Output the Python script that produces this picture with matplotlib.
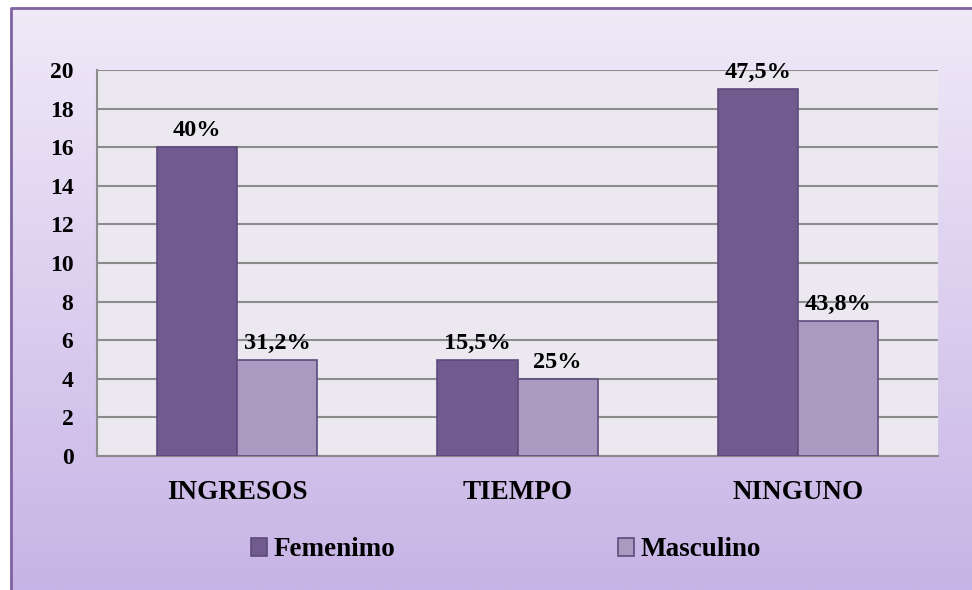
import matplotlib.pyplot as plt
import numpy as np

# data
categories = ['INGRESOS', 'TIEMPO', 'NINGUNO']
femenimo = [16, 5, 19]
masculino = [5, 4, 7]
fem_labels = ['40%', '15,5%', '47,5%']
masc_labels = ['31,2%', '25%', '43,8%']
series_names = ['Femenimo', 'Masculino']
yticks = list(range(0, 21, 2))

fem_color = '#705A8E'
masc_color = '#AA9ABF'
edge_color = '#5E4A7C'

plt.rcParams['font.family'] = ['Liberation Serif', 'DejaVu Serif']
plt.rcParams['font.weight'] = 'bold'

W, H = 972, 590
fig = plt.figure(figsize=(W / 100, H / 100), dpi=100)
fig.patch.set_facecolor('white')

# background with vertical gradient, frame starts at (10, 7)
bg = fig.add_axes([10 / W, 0, 1 - 10 / W, 1 - 7 / H], zorder=-5)
grad = np.linspace(0, 1, 256).reshape(-1, 1)
top = np.array([0xF0, 0xEA, 0xF8]) / 255
bot = np.array([0xC7, 0xB4, 0xE6]) / 255
img = top + (bot - top) * grad[:, :, None]
bg.imshow(img, aspect='auto', extent=[0, 1, 0, 1])
bg.set_xlim(0, 1)
bg.set_ylim(0, 1)
bg.axis('off')
bg.plot([0.001, 0.001, 1], [0, 0.998, 0.998], color='#8064A2', lw=2, clip_on=False)

# plot area
ax = fig.add_axes([97 / W, (H - 456) / H, 841 / W, 386 / H])
ax.set_facecolor('#EBE9EF')
x = np.arange(len(categories))
w = 80 / 280.3
b1 = ax.bar(x - w / 2, femenimo, w, color=fem_color, edgecolor=edge_color, lw=1.2, zorder=3)
b2 = ax.bar(x + w / 2, masculino, w, color=masc_color, edgecolor=edge_color, lw=1.2, zorder=3)

for bars, labs in [(b1, fem_labels), (b2, masc_labels)]:
    for r, t in zip(bars, labs):
        ax.text(r.get_x() + r.get_width() / 2, r.get_height() + 0.85, t,
                ha='center', va='center', fontsize=17.5, fontweight='bold')

ax.set_xlim(-0.5, 2.5)
ax.set_ylim(0, 20)
ax.set_yticks(yticks)
ax.set_yticklabels([str(v) for v in yticks], fontsize=17, fontweight='bold')
ax.set_xticks(x)
ax.set_xticklabels(categories, fontsize=19.5, fontweight='bold')
ax.yaxis.grid(True, color='#8C8C8C', lw=1.5, zorder=1)
ax.tick_params(axis='both', length=0)
ax.tick_params(axis='y', pad=17)
ax.tick_params(axis='x', pad=17)
for s in ['top', 'right']:
    ax.spines[s].set_visible(False)
for s in ['left', 'bottom']:
    ax.spines[s].set_color('#8C8C8C')
    ax.spines[s].set_linewidth(1.5)

fig.legend([b1, b2], series_names, loc='center', bbox_to_anchor=(506 / W, 1 - 550 / H),
           ncol=2, frameon=False, prop={'size': 19.5, 'weight': 'bold'},
           handlelength=0.6, handleheight=0.6, handletextpad=0.25, columnspacing=8.2)

fig.savefig('out.png', dpi=100)
